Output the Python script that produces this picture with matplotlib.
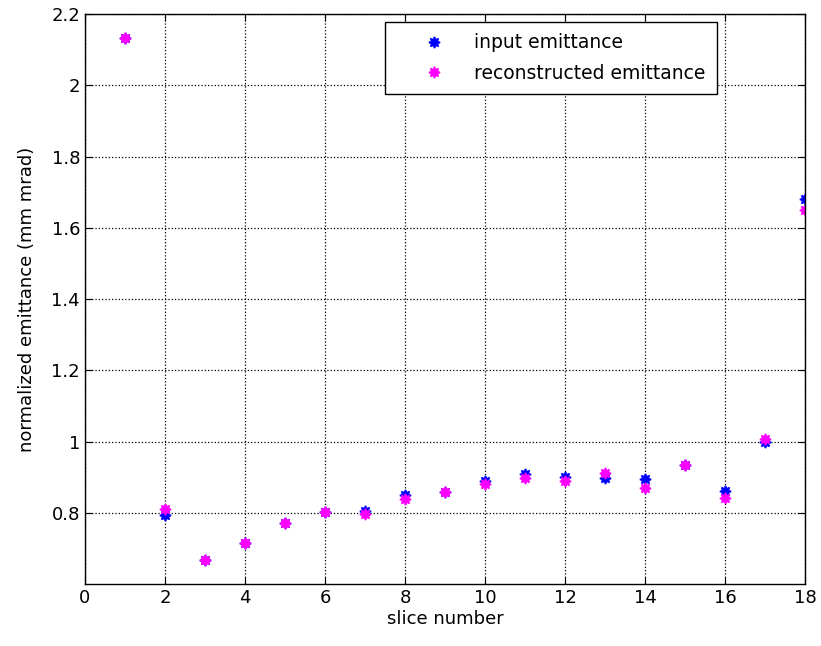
import matplotlib
matplotlib.use('Agg')
import matplotlib.pyplot as plt

plt.rcParams['font.family'] = ['DejaVu Sans']

slices = list(range(1, 19))
input_emit = [2.132, 0.794, 0.668, 0.714, 0.770, 0.802, 0.805, 0.849, 0.858,
              0.890, 0.909, 0.901, 0.897, 0.895, 0.934, 0.861, 1.000, 1.681]
recon_emit = [2.132, 0.810, 0.668, 0.714, 0.770, 0.802, 0.796, 0.838, 0.857,
              0.880, 0.897, 0.889, 0.913, 0.870, 0.934, 0.841, 1.008, 1.651]

fig = plt.figure(figsize=(8.21, 6.46), dpi=100)
ax = fig.add_axes([0.1035, 0.096, 0.877, 0.882])

star = (8, 1, 0)
ax.plot(slices, input_emit, linestyle='none', marker=star, markersize=8,
        color='#0000ff', markeredgecolor='#0000ff', markeredgewidth=1.2,
        label='input emittance')
ax.plot(slices, recon_emit, linestyle='none', marker=star, markersize=8,
        color='#ff00ff', markeredgecolor='#ff00ff', markeredgewidth=1.2,
        label='reconstructed emittance')

ax.set_xlim(0, 18)
ax.set_ylim(0.6, 2.2)
ax.set_xticks(range(0, 19, 2))
ax.set_yticks([0.8, 1, 1.2, 1.4, 1.6, 1.8, 2, 2.2])
ax.set_yticklabels(['0.8', '1', '1.2', '1.4', '1.6', '1.8', '2', '2.2'])
ax.grid(True, linestyle=':', color='black', linewidth=0.9)
ax.tick_params(direction='in', top=True, right=True, labelsize=13, length=5)
for s in ax.spines.values():
    s.set_linewidth(1)

ax.set_xlabel('slice number', fontsize=13, labelpad=2)
ax.set_ylabel('normalized emittance (mm mrad)', fontsize=13, labelpad=11)

leg = ax.legend(loc='upper left', bbox_to_anchor=(0.4167, 0.986), fontsize=13.5,
                fancybox=False, framealpha=1, edgecolor='black',
                handlelength=4, handletextpad=0.15, borderpad=0.6,
                labelspacing=0.6, borderaxespad=0)
leg.get_frame().set_linewidth(1)

fig.savefig('out.png', dpi=100)
